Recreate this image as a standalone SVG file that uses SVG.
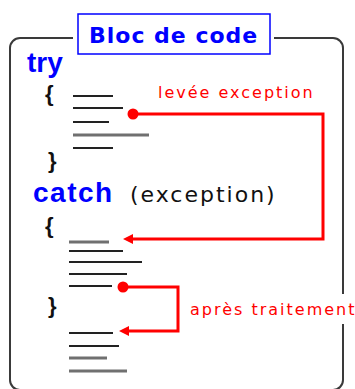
<svg xmlns="http://www.w3.org/2000/svg" width="355" height="389" viewBox="0 0 355 389">
<style>
.frame{fill:none;stroke:#3a3a3a;stroke-width:2}
.kw{font-family:"Liberation Sans",Arial,sans-serif;font-weight:bold;font-size:28px;fill:#0000ff}
.br{font-family:"Liberation Sans",Arial,sans-serif;font-weight:bold;font-size:22px;fill:#111}
.lbl{font-family:"DejaVu Sans",Verdana,sans-serif;font-size:16px;fill:#ff0000;letter-spacing:2px}
.code{stroke:#222;stroke-width:2}
.codeg{stroke:#707070;stroke-width:3}
.conn{fill:none;stroke:#ff0000;stroke-width:3}
</style>
<defs>
<marker id="arr" markerUnits="userSpaceOnUse" viewBox="0 0 10 10" refX="0" refY="5" markerWidth="10" markerHeight="10" orient="auto">
<path d="M0,0 L10,5 L0,10 z" fill="#ff0000"/>
</marker>
<marker id="dot" markerUnits="userSpaceOnUse" viewBox="0 0 12 12" refX="6" refY="6" markerWidth="12" markerHeight="12">
<circle cx="6" cy="6" r="5.5" fill="#ff0000"/>
</marker>
</defs>
<rect width="355" height="389" fill="#fff"/>

<g id="frame">
<path class="frame" d="M73,38 H20 A10,10 0 0 0 10,48 V380 A10,10 0 0 0 20,390 H333 A10,10 0 0 0 343,380 V324 M343,294 V48 A10,10 0 0 0 333,38 H274"/>
</g>

<g id="title">
<rect x="78" y="14" width="192" height="40" fill="#fff" stroke="#0000ff" stroke-width="1.5"/>
<text x="89" y="43" font-family="DejaVu Sans,Verdana,sans-serif" font-weight="bold" font-size="22" fill="#0000ff" letter-spacing="1">Bloc de code</text>
</g>

<g id="try-block">
<text class="kw" x="27" y="72">try</text>
<text class="br" x="45" y="101">{</text>
<line class="code" x1="73" y1="96" x2="113" y2="96"/>
<line class="code" x1="73" y1="108" x2="123" y2="108"/>
<line class="code" x1="73" y1="122" x2="109" y2="122"/>
<line class="codeg" x1="73" y1="135" x2="149" y2="135"/>
<line class="code" x1="73" y1="148" x2="113" y2="148"/>
<text class="br" x="48" y="168">}</text>
</g>

<g id="catch-block">
<text class="kw" x="33" y="202" letter-spacing="1.5">catch</text>
<text x="130" y="202" font-family="DejaVu Sans,Verdana,sans-serif" font-size="22" fill="#111" letter-spacing="2">(exception)</text>
<text class="br" x="45" y="233">{</text>
<line class="codeg" x1="69" y1="242" x2="109" y2="242"/>
<line class="code" x1="69" y1="251" x2="123" y2="251"/>
<line class="code" x1="69" y1="262" x2="142" y2="262"/>
<line class="code" x1="69" y1="274" x2="127" y2="274"/>
<line class="code" x1="69" y1="286" x2="112" y2="286"/>
<text class="br" x="48" y="313">}</text>
<line class="code" x1="69" y1="333" x2="113" y2="333"/>
<line class="code" x1="69" y1="346" x2="119" y2="346"/>
<line class="codeg" x1="69" y1="358" x2="107" y2="358"/>
<line class="codeg" x1="69" y1="371" x2="127" y2="371"/>
</g>

<g id="connectors">
<path class="conn" d="M133,114 H323 V239 H133" marker-start="url(#dot)" marker-end="url(#arr)"/>
<text class="lbl" x="158" y="98">levée exception</text>
<path class="conn" d="M123,287 H178 V331 H129" marker-start="url(#dot)" marker-end="url(#arr)"/>
<text class="lbl" x="190" y="315" letter-spacing="1.9">après traitement</text>
</g>
</svg>
